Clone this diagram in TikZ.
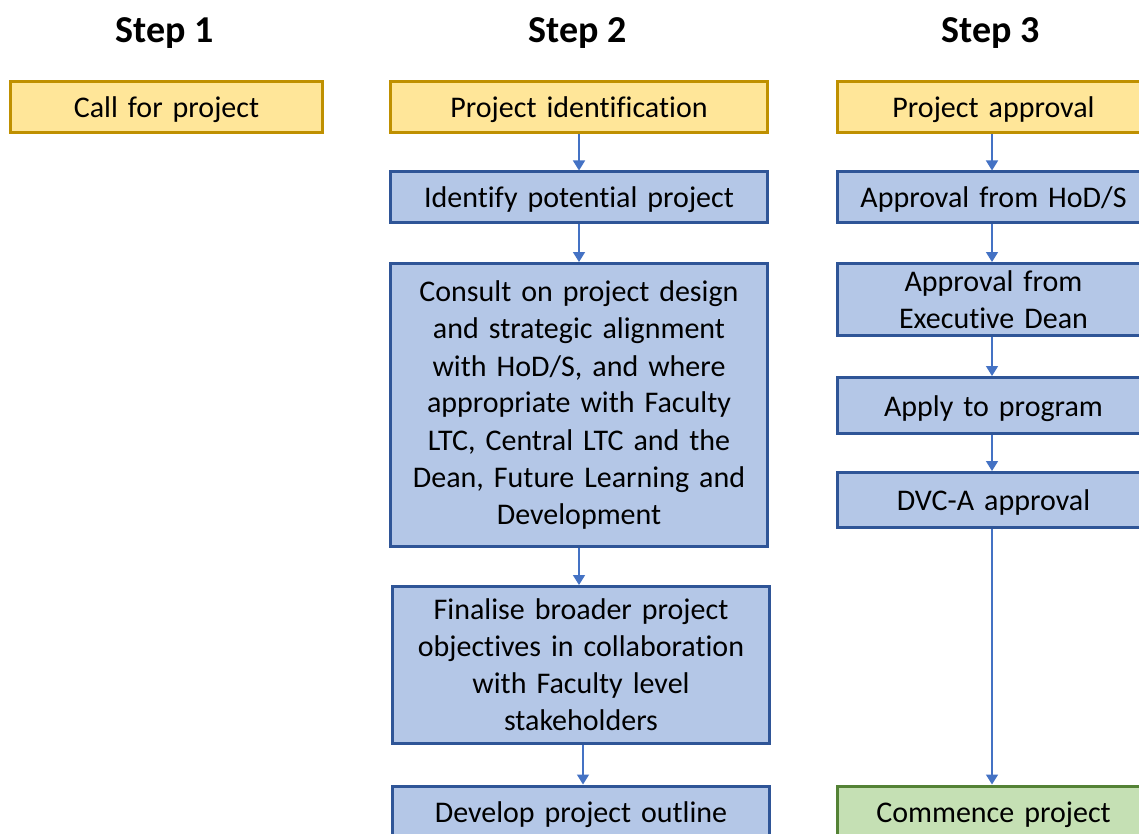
\documentclass[tikz,border=0pt]{standalone}
\usepackage{fontspec}
\setmainfont{Carlito}[Ligatures={NoCommon,NoContextual}]
\usetikzlibrary{arrows.meta}
\definecolor{goldline}{HTML}{BF9000}
\definecolor{goldfill}{HTML}{FFE699}
\definecolor{blueline}{HTML}{2F5597}
\definecolor{bluefill}{HTML}{B4C7E7}
\definecolor{greenline}{HTML}{548235}
\definecolor{greenfill}{HTML}{C5E0B4}
\definecolor{arrowblue}{HTML}{4472C4}
\tikzset{
    box/.style={rectangle, draw, line width=3pt, inner xsep=13.5pt, inner ysep=0pt,
        text width=350pt, align=center, minimum height=51pt,
        font=\fontsize{30}{37}\selectfont},
    narrow/.style={text width=285pt},
    oneline/.style={text height=21pt, text depth=0pt},
    phase/.style={box, oneline, draw=goldline, fill=goldfill},
    task/.style={box, draw=blueline, fill=bluefill},
    start/.style={box, oneline, draw=greenline, fill=greenfill},
    title/.style={font=\fontsize{38}{46}\selectfont\bfseries}
}
\tikzset{flow/.style={draw=arrowblue, line width=1.5pt, -{Triangle[width=12pt,length=10pt]}}}

\begin{document}
\begin{tikzpicture}[x=1pt, y=-1pt]
    \clip (0,0) rectangle (1139,834);
    \fill[white] (0,0) rectangle (1139,834);

    \node (s1) at (165, 33) [title] {Step 1};
    \node (s2) at (578, 33) [title] {Step 2};
    \node (s3) at (991, 33) [title] {Step 3};

    \node (call) at (166.5, 107) [phase, narrow] {Call for project};

    \node (ident) at (579, 107) [phase] {Project identification};
    \node (pot) at (579, 197.5) [task, oneline] {Identify potential project};
    \node (cons) at (579, 405) [task, minimum height=283pt] {Consult on project design\\ and strategic alignment\\ with HoD/S, and where\\ appropriate with Faculty\\ LTC, Central LTC and the\\ Dean, Future Learning and\\ Development};
    \node (fin) at (581, 665) [task, minimum height=157pt] {Finalise broader project\\ objectives in collaboration\\ with Faculty level\\ stakeholders};
    \node (dev) at (581, 811.5) [task, oneline] {Develop project outline};

    \node (appr) at (993.5, 107) [phase, narrow] {Project approval};
    \node (hod) at (993.5, 197.5) [task, oneline, narrow] {Approval from HoD/S};
    \node (exd) at (993.5, 299.5) [task, narrow, minimum height=72pt] {Approval from\\ Executive Dean};
    \node (prog) at (993.5, 405.5) [task, oneline, narrow, minimum height=56pt] {Apply to program};
    \node (dvc) at (993.5, 500) [task, oneline, narrow, minimum height=55pt] {DVC-A approval};
    \node (go) at (993.5, 811.5) [start, narrow] {Commence project};

    \draw[flow] (ident) -- (pot);
    \draw[flow] (pot) -- (pot |- cons.north);
    \draw[flow] (cons) -- (cons |- fin.north);
    \draw[flow] ([xshift=2pt]fin.south) -- ([xshift=2pt]fin.south |- dev.north);

    \draw[flow] ([xshift=-1.5pt]appr.south) -- ([xshift=-1.5pt]hod.north);
    \draw[flow] ([xshift=-1.5pt]hod.south) -- ([xshift=-1.5pt]exd.north);
    \draw[flow] ([xshift=-1.5pt]exd.south) -- ([xshift=-1.5pt]prog.north);
    \draw[flow] ([xshift=-1.5pt]prog.south) -- ([xshift=-1.5pt]dvc.north);
    \draw[flow] ([xshift=-1.5pt]dvc.south) -- ([xshift=-1.5pt]go.north);
\end{tikzpicture}
\end{document}
